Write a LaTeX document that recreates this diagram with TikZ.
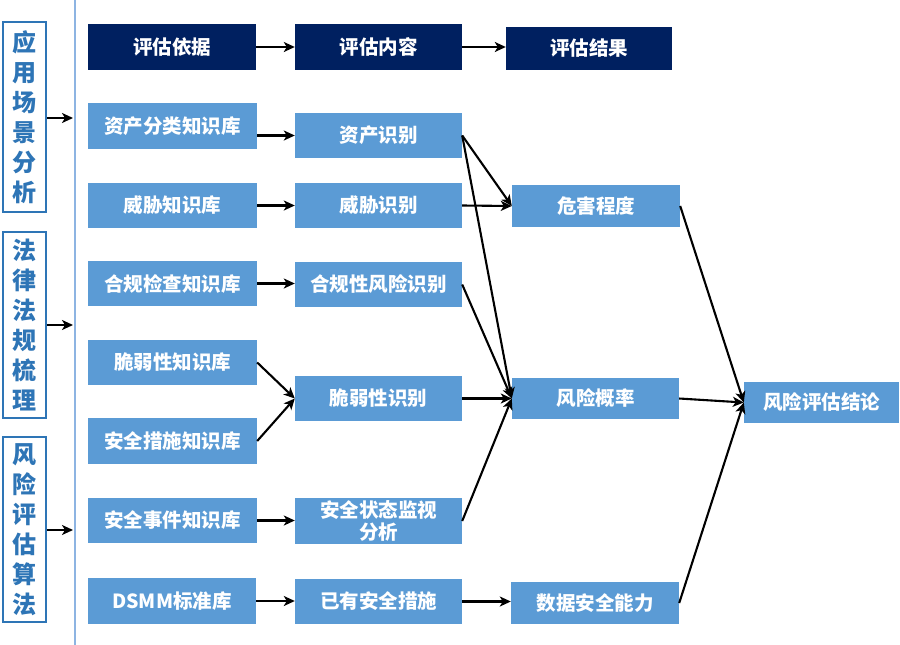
\documentclass[tikz,border=0pt]{standalone}
\usepackage{fontspec}
\setmainfont{Noto Sans CJK SC}
\usetikzlibrary{arrows.meta}
\definecolor{lb}{HTML}{5B9BD5}
\definecolor{navy}{HTML}{002060}
\definecolor{sideblue}{HTML}{2E75B6}
\definecolor{vline}{HTML}{8DB4E2}
\newcommand\mybox[7]{\node[#1, minimum width={(#4-#2)*1pt}, minimum height={(#5-#3)*1pt}] (#6) at ({(#2+#4)/2},{(#3+#5)/2}) {#7};}
\begin{document}
\begin{tikzpicture}[x=1pt,y=-1pt,
  lbox/.style={fill=lb, draw=none, text=white, inner sep=0pt, align=center,
    font=\fontsize{19.5}{22.5}\selectfont\bfseries},
  nbox/.style={lbox, fill=navy},
  sbox/.style={draw=sideblue, line width=2.2pt, fill=white, text=sideblue, inner sep=0pt, align=center,
    font=\fontsize{24}{30}\selectfont\bfseries},
  arr/.style={draw=black, line width=2.1pt, -{Stealth[length=11pt,width=10pt,inset=3pt]}}]
\useasboundingbox (0,0) rectangle (900,645);
% vertical line
\coordinate (vtop) at (75,0);
\coordinate (vbot) at (75,645);
\draw[vline, line width=1.3pt] (vtop) -- (vbot);
% side boxes
\mybox{sbox}{3}{22}{46}{212}{s1}{应\\用\\场\\景\\分\\析}
\mybox{sbox}{3}{232}{46}{418}{s2}{法\\律\\法\\规\\梳\\理}
\mybox{sbox}{3}{437}{46}{622}{s3}{风\\险\\评\\估\\算\\法}
\coordinate (t1) at (73,118);
\coordinate (t2) at (73,325);
\coordinate (t3) at (73,530);
\draw[arr] (s1.east |- t1) -- (t1);
\draw[arr] (s2.east |- t2) -- (t2);
\draw[arr] (s3.east |- t3) -- (t3);
% header
\mybox{nbox}{88}{24}{256}{70}{h1}{评估依据}
\mybox{nbox}{295}{24}{462}{70}{h2}{评估内容}
\mybox{nbox}{506}{27}{672}{70}{h3}{评估结果}
\draw[arr] (h1.east) -- (h2.west);
\draw[arr] (h2.east) -- (h3.west |- h2.east);
% column 1
\mybox{lbox}{88}{103}{257}{149}{a1}{资产分类知识库}
\mybox{lbox}{88}{183}{257}{228}{a2}{威胁知识库}
\mybox{lbox}{88}{261}{257}{306}{a3}{合规检查知识库}
\mybox{lbox}{88}{340}{257}{385}{a4}{脆弱性知识库}
\mybox{lbox}{88}{418}{257}{464}{a5}{安全措施知识库}
\mybox{lbox}{88}{498}{257}{543}{a6}{安全事件知识库}
\mybox{lbox}{88}{578}{256}{624}{a7}{DSMM标准库}
% column 2
\mybox{lbox}{295}{113}{462}{158}{b1}{资产识别}
\mybox{lbox}{295}{183}{462}{228}{b2}{威胁识别}
\mybox{lbox}{295}{262}{462}{307}{b3}{合规性风险识别}
\mybox{lbox}{295}{376}{462}{421}{b4}{脆弱性识别}
\mybox{lbox}{295}{498}{462}{544}{b6}{安全状态监视\\分析}
\mybox{lbox}{295}{579}{462}{624}{b7}{已有安全措施}
% column 3
\mybox{lbox}{512}{185}{680}{227}{c1}{危害程度}
\mybox{lbox}{512}{378}{679}{419}{c2}{风险概率}
\mybox{lbox}{511}{582}{679}{624}{c3}{数据安全能力}
% result
\mybox{lbox}{744}{382}{899}{423}{r}{风险评估结论}
% arrows col1 -> col2
\draw[arr] (a1.east |- b1.west) -- (b1.west);
\draw[arr] (a2.east) -- (b2.west);
\draw[arr] (a3.east) -- (b3.west |- a3.east);
\draw[arr] (a4.east) -- (b4.west);
\draw[arr] (a5.east) -- (b4.west);
\draw[arr] (a6.east) -- (b6.west |- a6.east);
\draw[arr] (a7.east) -- (b7.west |- a7.east);
% col2 -> col3
\draw[arr] (b1.east) -- (c1.west);
\draw[arr] (b1.east) -- (c2.west);
\draw[arr] (b2.east) -- (c1.west);
\draw[arr] (b3.east) -- (c2.west);
\draw[arr] (b4.east) -- (c2.west);
\draw[arr] (b6.east) -- (c2.west);
\draw[arr] (b7.east) -- (c3.west |- b7.east);
% col3 -> result
\draw[arr] (c1.east) -- (r.west);
\draw[arr] (c2.east) -- (r.west);
\draw[arr] (c3.east) -- (r.west);
\end{tikzpicture}
\end{document}
